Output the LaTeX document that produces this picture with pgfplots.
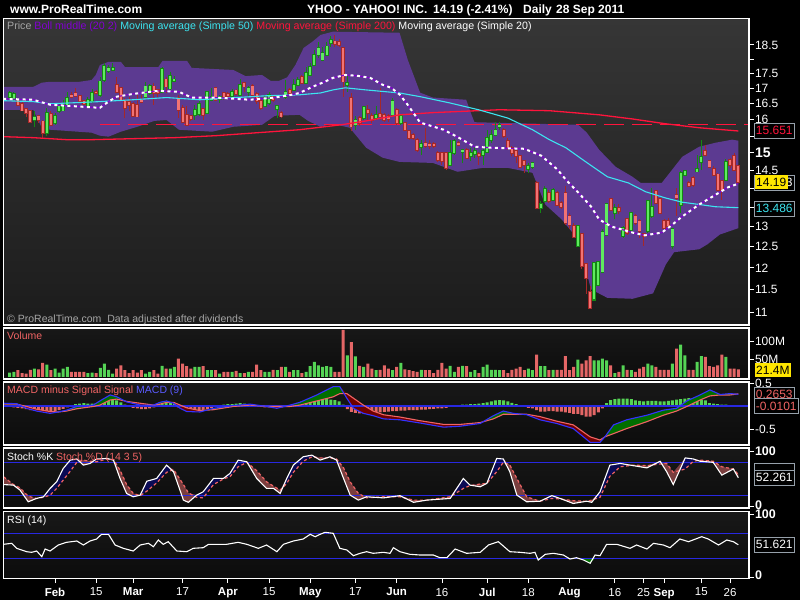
\documentclass[border=0pt]{standalone}
\usepackage{fontspec}
\setmainfont{Liberation Sans}
\usepackage{pgfplots}
\pgfplotsset{compat=1.18}
\usepackage{pgfplotstable}
\definecolor{pbgtop}{RGB}{54,54,54}
\definecolor{pbgbot}{RGB}{28,28,28}
\definecolor{ibgtop}{RGB}{24,24,24}
\definecolor{ibgbot}{RGB}{12,12,12}
\definecolor{boll}{RGB}{92,58,145}
\definecolor{bollpurple}{RGB}{130,0,210}
\definecolor{cgreen}{RGB}{95,235,95}
\definecolor{cgreenD}{RGB}{20,135,20}
\definecolor{cred}{RGB}{242,115,115}
\definecolor{credD}{RGB}{165,40,40}
\definecolor{ma50}{RGB}{60,228,240}
\definecolor{ma200}{RGB}{255,20,60}
\definecolor{vgreen}{RGB}{85,212,85}
\definecolor{vred}{RGB}{228,102,102}
\definecolor{macdblue}{RGB}{50,50,255}
\definecolor{sig}{RGB}{240,100,100}
\definecolor{fgreen}{RGB}{0,110,0}
\definecolor{fred}{RGB}{110,0,0}
\definecolor{navyfill}{RGB}{10,10,85}
\definecolor{brownfill}{RGB}{122,62,62}
\definecolor{lineblue}{RGB}{40,40,225}
\definecolor{labgray}{RGB}{165,165,165}
\definecolor{boxgray}{RGB}{150,160,170}
\definecolor{yelbox}{RGB}{255,230,0}

\pgfplotstableread{
i o h l c v hist
-11 16.73 16.91 16.63 16.85 12 -0.02
-10 16.65 16.87 16.58 16.81 14 -0.03
-9 16.63 16.66 16.42 16.47 19 -0.04
-8 16.50 16.58 16.26 16.29 11 -0.05
-7 16.33 16.36 16.08 16.22 9 -0.07
-6 16.26 16.30 15.91 15.94 20 -0.09
-5 15.99 16.26 15.77 16.08 23 -0.10
-4 16.12 16.15 15.89 15.99 21 -0.11
-3 15.94 15.99 15.41 15.59 39 -0.13
-2 15.59 16.36 15.49 16.20 34 -0.14
-1 16.18 16.26 15.79 15.84 19 -0.13
0 15.89 16.20 15.84 16.12 23 -0.11
1 16.26 16.52 16.20 16.42 12 -0.09
2 16.29 16.63 16.26 16.44 23 -0.06
3 16.47 16.89 16.42 16.68 28 -0.03
4 16.79 16.89 16.68 16.72 14 0.02
5 16.84 17.00 16.73 16.76 14 0.04
6 16.76 16.79 16.52 16.58 14 0.05
7 16.58 16.62 16.46 16.50 14 0.06
8 16.42 16.73 16.36 16.63 11 0.05
9 16.58 16.97 16.52 16.84 12 0.05
10 16.89 16.95 16.80 16.84 11 0.06
11 16.79 17.37 16.73 17.23 25 0.08
12 17.28 17.85 17.23 17.76 37 0.10
13 17.59 17.79 17.52 17.70 20 0.12
14 17.62 17.85 17.59 17.70 9 0.13
15 17.12 17.37 16.84 16.89 23 0.12
16 17.00 17.06 16.58 16.63 32 0.08
17 16.60 16.68 16.04 16.36 19 0.03
18 16.55 16.73 16.26 16.47 11 -0.02
19 16.49 16.55 16.08 16.12 19 -0.04
20 16.47 16.79 16.08 16.10 12 -0.05
21 16.63 16.79 16.52 16.57 19 -0.07
22 16.73 17.23 16.68 17.06 9 -0.07
23 16.84 17.15 16.79 17.09 14 -0.05
24 17.06 17.17 16.47 16.84 19 -0.03
25 16.95 16.98 16.73 16.84 9 0.01
26 16.89 17.73 16.86 17.64 31 0.04
27 17.30 17.39 16.84 17.06 23 0.06
28 17.00 17.56 16.95 17.42 23 0.06
29 17.26 17.40 17.20 17.30 28 0.04
30 16.68 16.79 16.04 16.31 51 -0.03
31 16.36 16.47 15.89 15.94 37 -0.07
32 16.15 16.42 15.81 15.84 30 -0.10
33 16.10 16.15 15.96 16.01 23 -0.11
34 16.15 16.47 15.99 16.31 28 -0.12
35 16.18 16.58 16.10 16.49 28 -0.11
36 16.33 16.36 15.99 16.15 30 -0.09
37 16.20 16.93 16.18 16.87 19 -0.07
38 16.63 17.00 16.58 16.72 19 -0.04
39 17.00 17.03 16.58 16.63 19 -0.02
40 16.65 16.79 16.52 16.72 9 0.01
41 16.84 16.89 16.63 16.72 14 0.03
42 16.82 16.87 16.70 16.76 14 0.04
43 16.76 16.97 16.73 16.87 14 0.04
44 16.93 16.97 16.79 16.82 17 0.05
45 16.79 17.30 16.76 17.12 11 0.06
46 17.19 17.23 16.89 17.06 11 0.05
47 16.89 17.09 16.76 17.00 14 0.04
48 17.09 17.15 16.73 16.79 14 0.03
49 16.82 16.89 16.50 16.58 34 0.01
50 16.58 16.68 16.31 16.36 19 -0.01
51 16.42 16.79 16.40 16.68 14 -0.03
52 16.52 16.89 16.47 16.79 14 -0.03
53 16.73 16.79 16.55 16.63 20 -0.04
54 16.33 16.47 16.04 16.44 19 -0.04
55 16.20 16.26 16.04 16.10 28 -0.03
56 16.72 17.28 16.67 16.87 28 -0.01
57 16.95 17.00 16.79 16.86 14 0.02
58 16.95 17.33 16.93 17.12 19 0.04
59 17.12 17.37 17.09 17.28 19 0.07
60 17.39 17.45 17.17 17.19 11 0.10
61 17.17 17.73 17.15 17.52 14 0.12
62 17.45 17.85 17.41 17.73 30 0.13
63 17.79 18.32 17.76 18.14 42 0.14
64 18.14 18.62 18.02 18.38 32 0.15
65 17.97 18.44 17.95 18.22 28 0.15
66 18.14 18.62 18.11 18.44 30 0.15
67 18.56 18.82 18.44 18.68 28 0.14
68 18.62 18.86 18.44 18.54 14 0.13
69 18.60 18.70 18.44 18.50 14 0.10
70 18.38 18.44 16.73 17.23 131 0.03
71 17.12 17.42 16.89 17.19 60 -0.07
72 16.68 16.84 15.64 15.79 97 -0.13
73 15.84 16.10 15.69 15.99 57 -0.15
74 16.04 16.10 15.79 15.89 31 -0.16
75 16.04 16.44 15.99 16.40 28 -0.16
76 16.31 16.47 15.99 16.20 37 -0.15
77 16.10 16.20 15.89 15.99 23 -0.15
78 16.04 16.42 15.99 16.15 19 -0.14
79 16.18 17.00 15.99 16.10 20 -0.14
80 16.15 16.20 15.94 15.99 32 -0.13
81 16.12 16.18 15.94 16.01 23 -0.12
82 16.15 16.68 16.10 16.58 19 -0.11
83 16.31 16.36 15.84 15.89 28 -0.11
84 15.89 16.15 15.84 16.10 39 -0.10
85 15.89 15.94 15.64 15.69 21 -0.10
86 15.64 15.69 15.39 15.44 19 -0.09
87 15.54 15.59 15.39 15.44 16 -0.09
88 15.39 15.44 15.04 15.09 14 -0.09
89 15.17 15.39 14.95 15.27 20 -0.08
90 15.29 15.74 15.14 15.21 19 -0.08
91 15.27 15.39 15.12 15.21 19 -0.07
92 15.27 15.32 15.14 15.21 11 -0.06
93 15.00 15.05 14.75 14.80 20 -0.05
94 15.00 15.04 14.66 14.76 39 -0.05
95 15.00 15.04 14.52 14.57 23 -0.04
96 14.66 15.39 14.61 15.00 31 -0.02
97 15.00 15.41 14.95 15.34 14 0.01
98 15.29 15.34 15.19 15.24 28 0.02
99 15.04 15.12 14.70 15.09 31 0.03
100 15.09 15.14 14.83 14.85 30 0.03
101 14.90 15.14 14.76 15.00 14 0.04
102 14.97 15.19 14.85 15.04 19 0.04
103 14.97 15.04 14.66 14.90 11 0.05
104 14.95 15.14 14.66 15.04 28 0.06
105 15.04 15.69 15.00 15.44 34 0.08
106 15.39 15.69 15.29 15.54 20 0.10
107 15.54 15.94 15.49 15.69 20 0.12
108 15.77 15.94 15.69 15.84 19 0.13
109 15.69 15.74 15.44 15.49 19 0.12
110 15.34 15.44 15.09 15.14 11 0.10
111 15.14 15.19 14.90 15.00 20 0.07
112 15.04 15.09 14.70 14.90 23 0.04
113 14.90 14.95 14.57 14.61 28 0.01
114 14.76 14.80 14.42 14.66 19 -0.02
115 14.54 14.70 14.42 14.61 23 -0.04
116 14.61 14.75 14.54 14.70 19 -0.05
117 14.15 14.19 13.44 13.48 62 -0.09
118 13.48 13.65 13.35 13.59 30 -0.12
119 13.66 14.06 13.62 13.97 30 -0.12
120 13.88 13.95 13.62 13.66 19 -0.11
121 13.70 14.01 13.66 13.95 20 -0.11
122 13.88 13.92 13.53 13.57 20 -0.12
123 13.61 13.65 13.46 13.51 20 -0.12
124 13.88 14.06 13.05 13.10 58 -0.14
125 13.27 13.35 12.93 13.05 19 -0.15
126 13.01 13.10 12.72 12.75 28 -0.17
127 12.52 13.05 12.52 13.01 48 -0.17
128 12.80 12.85 11.97 12.04 37 -0.20
129 12.08 12.12 11.40 11.78 46 -0.23
130 11.44 11.59 11.08 11.10 58 -0.23
131 11.29 12.12 11.25 12.10 46 -0.20
132 11.61 12.15 11.59 12.13 46 -0.14
133 11.90 12.93 11.90 12.86 51 -0.05
134 12.80 13.61 12.76 13.57 46 0.06
135 13.70 13.74 13.40 13.44 32 0.13
136 13.35 13.57 13.18 13.48 11 0.15
137 13.48 13.57 13.31 13.40 14 0.16
138 12.78 13.01 12.72 12.96 32 0.16
139 13.18 13.22 12.80 12.84 20 0.16
140 12.93 13.37 12.89 13.35 19 0.15
141 13.27 13.31 13.05 13.10 14 0.12
142 13.14 13.18 12.72 12.89 23 0.11
143 12.80 12.85 12.52 12.76 28 0.10
144 12.89 13.70 12.85 13.66 37 0.11
145 13.27 14.01 13.22 13.51 32 0.11
146 13.92 13.97 13.57 13.61 28 0.11
147 13.70 13.74 13.31 13.35 20 0.10
148 13.14 13.18 12.93 12.96 20 0.10
149 13.14 13.22 12.96 13.01 20 0.11
150 12.52 12.96 12.44 12.93 37 0.12
151 13.83 14.01 13.27 13.74 79 0.14
152 13.57 14.47 13.35 14.42 90 0.15
153 14.38 14.52 14.33 14.47 60 0.16
154 14.15 14.19 14.03 14.08 20 0.17
155 14.28 14.33 14.03 14.10 20 0.17
156 14.47 14.95 14.47 14.54 42 0.16
157 14.73 15.39 14.52 14.87 58 0.14
158 15.04 15.24 14.90 14.95 56 0.12
159 14.76 14.80 14.57 14.61 30 0.06
160 14.54 14.61 14.33 14.38 28 0.05
161 14.38 14.42 13.92 13.97 32 0.04
162 14.19 14.24 13.70 13.97 62 0.03
163 14.24 14.82 14.19 14.73 56 0.03
164 14.80 14.85 14.57 14.66 23 0.02
165 14.90 15.00 14.47 14.52 23 0.01
166 14.62 14.66 14.15 14.19 21.4 -0.0101
}\ohlc

% Bollinger band outline: upper band left to right, then lower band right to left
\pgfplotstableread{
x y
-12.6 17.05
-5.3 17.05
-3.2 17.19
-1.2 17.22
5.9 17.22
8.9 17.28
9.9 17.45
10.9 17.79
13.0 17.90
16.0 17.90
17.0 17.72
25.1 17.72
26.1 17.93
32.1 17.93
33.2 17.69
43.3 17.62
46.3 17.41
50.3 17.45
52.4 17.25
54.4 17.25
56.4 17.37
58.4 17.79
60.4 18.39
62.5 18.61
64.5 18.86
67.5 18.98
83.7 18.94
85.7 17.97
88.7 16.86
91.8 16.70
99.9 16.63
100.9 16.25
101.9 15.92
127.1 15.84
129.2 15.60
132.2 15.09
136.2 14.60
140.3 14.32
142.3 14.15
147.4 14.15
149.4 14.44
152.4 14.89
156.5 15.18
160.5 15.30
164.5 15.39
166.0 15.36
166.0 12.96
161.5 12.80
158.5 12.56
156.5 12.44
150.4 12.37
148.4 12.08
145.3 11.42
140.3 11.30
134.2 11.32
130.2 11.51
127.1 12.68
123.1 13.18
119.1 13.57
116.0 14.43
110.0 14.57
103.9 14.57
97.8 14.46
91.8 14.71
83.7 14.74
79.6 14.86
75.6 15.15
71.6 15.75
67.5 15.87
64.5 15.78
61.5 15.96
59.4 16.15
53.4 16.12
50.3 15.84
43.3 15.78
38.2 15.63
30.1 15.69
27.1 15.99
24.1 15.96
20.0 15.78
16.0 15.63
13.0 15.48
10.9 15.51
8.9 15.60
-1.2 15.69
-3.2 15.75
-5.3 16.31
-12.6 16.31
}\band

\pgfplotstableread{
x m
-12.6 16.66
-5.3 16.63
-1.2 16.47
10.9 16.37
13.0 16.57
15.0 16.73
19.0 16.82
25.1 16.92
30.1 16.89
33.2 16.70
39.2 16.70
47.3 16.63
53.4 16.70
57.4 16.79
59.4 16.85
62.5 17.05
65.5 17.22
67.5 17.35
70.5 17.45
73.6 17.42
76.6 17.35
79.6 17.12
81.7 17.02
83.8 16.79
85.5 16.50
87.4 16.15
88.7 15.91
94.4 15.69
97.8 15.47
101.9 15.18
105.9 15.15
114.0 15.12
118.1 14.92
122.1 14.52
124.1 14.24
127.1 13.89
130.2 13.52
132.2 13.18
135.2 13.00
140.3 12.85
143.3 12.78
147.4 12.85
149.4 13.00
152.4 13.26
156.5 13.57
160.5 13.83
163.5 14.03
166.0 14.13
}\maTwenty

\pgfplotstableread{
x m
-12.6 16.60
-5.3 16.57
-1.2 16.50
10.9 16.57
19.0 16.63
27.1 16.70
35.2 16.63
51.3 16.76
59.4 16.79
64.5 16.85
67.5 16.95
70.5 17.02
75.6 16.95
83.7 16.85
88.7 16.73
95.8 16.53
102.9 16.31
110.0 16.05
116.0 15.69
120.1 15.39
124.1 15.15
129.2 14.72
134.2 14.32
139.3 14.15
143.5 13.91
148.4 13.74
152.4 13.63
156.5 13.57
160.5 13.51
166.0 13.486
}\maFifty

\pgfplotstableread{
x m
-12.6 15.48
-5.3 15.45
2.8 15.39
8.9 15.39
29.1 15.45
39.2 15.51
49.3 15.60
59.4 15.69
69.5 15.84
75.6 15.96
83.7 16.15
91.8 16.22
107.9 16.31
120.1 16.28
132.2 16.15
140.3 16.02
148.4 15.87
156.5 15.75
166.0 15.651
}\maTwoHundred

\pgfplotstableread{
x m s
-12.5 0.06 0.04
-9.3 0.05 0.04
-6.9 -0.05 -0.01
-4.45 -0.11 -0.07
-1.2 -0.16 -0.12
0.8 -0.13 -0.13
2.8 -0.09 -0.11
5.3 -0.01 -0.06
9.3 0.02 -0.01
10.9 0.11 0.02
13.4 0.24 0.13
15.0 0.20 0.15
17.4 0.09 0.10
20.7 0.02 0.06
23.9 0.02 0.02
25.5 0.08 0.04
27.1 0.11 0.08
28.8 0.06 0.08
30.4 -0.05 0.02
32.0 -0.12 -0.04
35.2 -0.13 -0.10
38.5 -0.05 -0.08
43.3 0.01 -0.01
47.4 0.04 0.02
51.4 -0.01 -0.01
53.9 -0.05 -0.01
57.1 0.02 -0.01
59.5 0.08 0.02
63.6 0.24 0.11
67.6 0.42 0.20
69.2 0.42 0.27
70.9 0.17 0.27
72.5 -0.05 0.17
74.9 -0.16 0.02
77.3 -0.21 -0.11
79.8 -0.28 -0.19
83.8 -0.30 -0.24
88.7 -0.37 -0.32
94.4 -0.46 -0.40
98.4 -0.44 -0.40
103.3 -0.38 -0.36
106.5 -0.21 -0.28
108.9 -0.11 -0.18
111.4 -0.16 -0.18
114.6 -0.19 -0.18
117.8 -0.30 -0.23
121.9 -0.38 -0.33
125.9 -0.49 -0.41
130.0 -0.79 -0.67
132.4 -0.79 -0.74
133.6 -0.67 -0.67
135.7 -0.41 -0.60
138.9 -0.30 -0.49
143.8 -0.20 -0.34
147.8 -0.09 -0.20
151.0 -0.05 -0.11
153.5 0.11 -0.01
156.7 0.24 0.13
159.1 0.35 0.22
161.6 0.25 0.24
164.0 0.27 0.24
166.0 0.255 0.265
}\macd

\pgfplotstableread{
x k d
-12.5 40 54
-10.1 39 40
-8.5 30 34
-6.5 9 19
-4.5 15 15
-2.8 18 17
-1.2 33 21
0.4 45 33
2.0 69 48
3.7 84 64
5.3 86 80
6.9 75 84
8.5 78 82
10.1 86 81
12.6 87 86
14.2 84 85
15.8 51 66
17.4 24 40
19.0 18 24
20.7 21 20
22.3 46 28
24.7 51 43
27.1 75 62
28.8 63 67
31.2 12 40
32.4 8 25
34.4 21 17
36.0 27 16
38.5 51 40
40.9 51 50
42.5 60 54
44.5 84 72
46.6 81 80
49.0 51 65
51.4 33 45
53.1 33 37
54.7 24 30
56.3 51 42
57.9 75 62
60.3 90 82
62.4 93 90
64.4 84 88
66.8 90 88
68.4 84 86
70.1 51 70
71.7 21 45
73.7 12 24
75.7 18 16
79.8 16 18
83.8 20 18
87.1 8 12
90.3 12 12
96.0 15 18
99.2 51 33
100.8 39 38
103.3 36 41
104.9 42 42
107.3 87 63
108.9 86 80
110.5 63 75
112.2 21 51
114.6 9 18
117.8 10 10
120.7 20 15
122.7 15 14
125.9 6 11
129.2 10 10
130.4 8 12
132.4 27 17
134.8 75 55
137.3 78 72
140.5 74 75
143.8 70 74
147.0 82 77
148.6 63 78
150.2 40 62
153.1 88 68
155.1 86 82
156.7 82 84
159.9 80 82
162.0 57 72
164.8 68 68
166.0 52.261 58
}\stoch

\pgfplotstableread{
x r
-12.55 52.3
-10.5 53.9
-9.3 45.9
-6.9 40.5
-5.7 39.5
-4.45 41.6
-3.2 32.5
-2.4 44.8
-1.2 41.6
0.8 51.2
2.8 55.5
5.3 57.6
6.9 51.2
8.5 57.6
10.1 60.8
11.3 68.3
13.0 68.3
14.6 51.2
16.6 45.9
19.0 41.6
20.7 51.2
22.7 53.9
23.9 48.5
25.1 59.2
26.3 52.3
27.5 56.5
29.6 41.6
32.0 40.5
33.6 45.9
36.0 46.9
37.3 52.3
39.3 52.3
41.7 52.3
44.5 55.5
46.6 52.3
49.4 45.9
51.4 51.2
53.9 40.5
55.5 52.3
57.9 57.6
60.3 60.8
62.0 68.3
63.2 64.5
64.4 68.3
65.6 71.5
67.6 69.9
69.2 45.9
70.9 43.2
72.5 34.1
74.1 37.9
75.7 40.5
77.3 37.9
79.8 39.5
81.4 37.9
82.2 46.9
83.8 40.5
86.2 36.3
88.7 35.2
91.9 35.2
93.5 30.9
95.2 30.9
97.2 44.8
100.0 37.9
103.3 39.5
105.3 51.2
107.7 56.5
110.5 40.5
113.0 39.5
115.4 37.9
116.6 39.5
117.4 27.2
119.1 36.3
121.1 37.9
123.5 35.2
125.1 28.8
126.7 30.9
128.4 27.2
130.0 21.9
131.2 35.2
132.4 34.1
134.0 52.3
136.5 52.3
139.7 45.9
141.3 51.2
143.8 44.8
145.4 53.9
147.8 51.2
149.4 46.9
151.8 60.8
153.9 56.5
157.1 64.5
158.7 60.8
161.2 51.2
163.2 59.2
164.8 56.5
166.0 51.621
}\rsi

% ---- split the OHLC table into coordinate lists (up / down candles) ----
\pgfplotstablegetrowsof{\ohlc}
\pgfmathtruncatemacro\Nrows{\pgfplotsretval-1}
\def\upW{}\def\dnW{}\def\upBo{}\def\dnBo{}\def\upBi{}\def\dnBi{}\def\upV{}\def\dnV{}\def\posH{}\def\negH{}
\pgfplotsforeachungrouped \k in {0,...,\Nrows}{%
  \pgfplotstablegetelem{\k}{i}\of\ohlc \let\ci\pgfplotsretval
  \pgfplotstablegetelem{\k}{o}\of\ohlc \let\co\pgfplotsretval
  \pgfplotstablegetelem{\k}{h}\of\ohlc \let\ch\pgfplotsretval
  \pgfplotstablegetelem{\k}{l}\of\ohlc \let\cl\pgfplotsretval
  \pgfplotstablegetelem{\k}{c}\of\ohlc \let\cc\pgfplotsretval
  \pgfplotstablegetelem{\k}{v}\of\ohlc \let\cv\pgfplotsretval
  \pgfplotstablegetelem{\k}{hist}\of\ohlc \let\chh\pgfplotsretval
  \pgfmathtruncatemacro\isup{\cc<\co ? 0 : 1}%
  \pgfmathtruncatemacro\ispos{\chh<0 ? 0 : 1}%
  \ifnum\isup=1
    \pgfmathsetmacro\ob{\co-0.03}\pgfmathsetmacro\ot{\cc+0.03}%
    \pgfmathsetmacro\ib{\co-0.004}\pgfmathsetmacro\itp{\cc+0.004}%
    \edef\upW{\upW (\ci,\cl) (\ci,\ch) (\ci,nan)}%
    \edef\upBo{\upBo (\ci,\ob) (\ci,\ot) (\ci,nan)}%
    \edef\upBi{\upBi (\ci,\ib) (\ci,\itp) (\ci,nan)}%
    \edef\upV{\upV (\ci,\cv)}%
  \else
    \pgfmathsetmacro\ob{\cc-0.03}\pgfmathsetmacro\ot{\co+0.03}%
    \pgfmathsetmacro\ib{\cc-0.004}\pgfmathsetmacro\itp{\co+0.004}%
    \edef\dnW{\dnW (\ci,\cl) (\ci,\ch) (\ci,nan)}%
    \edef\dnBo{\dnBo (\ci,\ob) (\ci,\ot) (\ci,nan)}%
    \edef\dnBi{\dnBi (\ci,\ib) (\ci,\itp) (\ci,nan)}%
    \edef\dnV{\dnV (\ci,\cv)}%
  \fi
  \ifnum\ispos=1
    \edef\posH{\posH (\ci,\chh)}%
  \else
    \edef\negH{\negH (\ci,\chh)}%
  \fi
}

% ---- polygons for the coloured areas between two curves ----
\pgfplotstablegetrowsof{\macd}
\pgfmathtruncatemacro\Nm{\pgfplotsretval-1}
\def\mFwd{}\def\mRevS{}\def\mRevM{}
\pgfplotsforeachungrouped \k in {0,...,\Nm}{%
  \pgfplotstablegetelem{\k}{x}\of\macd \let\cx\pgfplotsretval
  \pgfplotstablegetelem{\k}{m}\of\macd \let\cm\pgfplotsretval
  \pgfplotstablegetelem{\k}{s}\of\macd \let\cs\pgfplotsretval
  \pgfmathsetmacro\cmax{max(\cm,\cs)}%
  \edef\mFwd{\mFwd (\cx,\cmax)}%
  \edef\mRevS{(\cx,\cs) \mRevS}%
  \edef\mRevM{(\cx,\cm) \mRevM}%
}
\pgfplotstablegetrowsof{\stoch}
\pgfmathtruncatemacro\Ns{\pgfplotsretval-1}
\def\sFwd{}\def\sRevD{}\def\sRevK{}
\pgfplotsforeachungrouped \k in {0,...,\Ns}{%
  \pgfplotstablegetelem{\k}{x}\of\stoch \let\cx\pgfplotsretval
  \pgfplotstablegetelem{\k}{k}\of\stoch \let\ck\pgfplotsretval
  \pgfplotstablegetelem{\k}{d}\of\stoch \let\cd\pgfplotsretval
  \pgfmathsetmacro\cmax{max(\ck,\cd)}%
  \edef\sFwd{\sFwd (\cx,\cmax)}%
  \edef\sRevD{(\cx,\cd) \sRevD}%
  \edef\sRevK{(\cx,\ck) \sRevK}%
}
\pgfplotstablegetrowsof{\rsi}
\pgfmathtruncatemacro\Nr{\pgfplotsretval-1}
\def\rFwd{}\def\rRev{}
\pgfplotsforeachungrouped \k in {0,...,\Nr}{%
  \pgfplotstablegetelem{\k}{x}\of\rsi \let\cx\pgfplotsretval
  \pgfplotstablegetelem{\k}{r}\of\rsi \let\cr\pgfplotsretval
  \pgfmathsetmacro\cmin{min(\cr,30)}%
  \edef\rFwd{\rFwd (\cx,\cmin)}%
  \edef\rRev{(\cx,30) \rRev}%
}

\pgfplotsset{
  panel/.style={
    scale only axis, width=745.7pt, anchor=south west,
    xmin=-12.56, xmax=168.6,
    axis on top,
    axis line style={white, line width=1.3pt},
    xtick=\empty,
    ytick pos=right, yticklabel pos=right,
    tick align=outside, major tick length=4.5pt,
    every tick/.style={white, line width=0.8pt},
    yticklabel style={font=\fontsize{12}{12}\selectfont, text=white, xshift=-2pt},
    yminorticks=false,
    unbounded coords=jump,
    axis background/.style={top color=ibgtop, bottom color=ibgbot},
  },
}
\newcommand{\sz}[1]{\fontsize{#1}{#1}\selectfont}

\begin{document}
\begin{tikzpicture}
\useasboundingbox (0pt,0pt) rectangle (800pt,600pt);
\fill[black] (0pt,0pt) rectangle (800pt,600pt);

% ---------------- PRICE ----------------
\begin{axis}[panel, at={(3.3pt,275pt)}, height=306.7pt,
  ymode=log, ymin=10.74, ymax=19.48,
  ytick={11,11.5,12,12.5,13,13.5,14,14.5,15,15.5,16,16.5,17,17.5,18,18.5},
  yticklabels={11,11.5,12,12.5,13,{},{},14.5,{\sz{14}\bfseries 15},{},16,16.5,17,17.5,{},18.5},
  axis background/.style={top color=pbgtop, bottom color=pbgbot}]
\addplot[fill=boll, draw=none, forget plot] table[x=x,y=y]{\band};
\addplot[ma200, line width=1.3pt, dash pattern=on 19.5pt off 8.5pt, forget plot] coordinates {(11,15.84) (168.6,15.84)};
\edef\tmp{\noexpand\addplot[cgreenD, line width=1pt, forget plot] coordinates {\upW};}\tmp
\edef\tmp{\noexpand\addplot[credD, line width=1pt, forget plot] coordinates {\dnW};}\tmp
\edef\tmp{\noexpand\addplot[cgreenD, line width=3.8pt, forget plot] coordinates {\upBo};}\tmp
\edef\tmp{\noexpand\addplot[cgreen, line width=2.2pt, forget plot] coordinates {\upBi};}\tmp
\edef\tmp{\noexpand\addplot[credD, line width=3.8pt, forget plot] coordinates {\dnBo};}\tmp
\edef\tmp{\noexpand\addplot[cred, line width=2.2pt, forget plot] coordinates {\dnBi};}\tmp
\addplot[ma200, line width=1.3pt, forget plot] table[x=x,y=m]{\maTwoHundred};
\addplot[ma50, line width=1.1pt, forget plot] table[x=x,y=m]{\maFifty};
\addplot[bollpurple, line width=1.1pt, forget plot] table[x=x,y=m]{\maTwenty};
\addplot[white, line width=2pt, dash pattern=on 3pt off 3.5pt, forget plot] table[x=x,y=m]{\maTwenty};
\end{axis}

% ---------------- VOLUME ----------------
\begin{axis}[panel, at={(3.3pt,221pt)}, height=51pt,
  ymin=-5.6, ymax=136.1, ytick={50,100}, yticklabels={50M,100M}]
\edef\tmp{\noexpand\addplot[ybar, bar width=3pt, bar shift=0pt, fill=vgreen, draw=none, forget plot] coordinates {\upV};}\tmp
\edef\tmp{\noexpand\addplot[ybar, bar width=3pt, bar shift=0pt, fill=vred, draw=none, forget plot] coordinates {\dnV};}\tmp
\end{axis}

% ---------------- MACD ----------------
\begin{axis}[panel, at={(3.3pt,155pt)}, height=63pt,
  ymin=-0.848, ymax=0.522, ytick={-0.5,0.5}, yticklabels={-0.5,0.5}]
\edef\tmp{\noexpand\addplot[ybar, bar width=3pt, bar shift=0pt, fill=vgreen, draw=none, forget plot] coordinates {\posH};}\tmp
\edef\tmp{\noexpand\addplot[ybar, bar width=3pt, bar shift=0pt, fill=vred, draw=none, forget plot] coordinates {\negH};}\tmp
\edef\tmp{\noexpand\addplot[fill=fgreen, draw=none, forget plot] coordinates {\mFwd \mRevS};}\tmp
\edef\tmp{\noexpand\addplot[fill=fred, draw=none, forget plot] coordinates {\mFwd \mRevM};}\tmp
\addplot[lineblue, line width=1.2pt, forget plot] coordinates {(-12.56,0) (168.6,0)};
\addplot[sig, line width=1.1pt, forget plot] table[x=x,y=s]{\macd};
\addplot[macdblue, line width=1.1pt, forget plot] table[x=x,y=m]{\macd};
\end{axis}

% ---------------- STOCH ----------------
\begin{axis}[panel, at={(3.3pt,92pt)}, height=60pt,
  ymin=-2.2, ymax=105.8, ytick={0,100},
  yticklabels={\raisebox{4pt}{\textbf{0}},\raisebox{-2.5pt}{\textbf{100}}},
  yticklabel style={font=\sz{12.5}}]
\edef\tmp{\noexpand\addplot[fill=navyfill, draw=none, forget plot] coordinates {\sFwd \sRevD};}\tmp
\edef\tmp{\noexpand\addplot[fill=brownfill, draw=none, forget plot] coordinates {\sFwd \sRevK};}\tmp
\addplot[lineblue, line width=1.1pt, forget plot] coordinates {(-12.56,80) (168.6,80)};
\addplot[lineblue, line width=1.1pt, forget plot] coordinates {(-12.56,20) (168.6,20)};
\addplot[sig, line width=1.2pt, dash pattern=on 3pt off 2.5pt, forget plot] table[x=x,y=d]{\stoch};
\addplot[white, line width=1.1pt, forget plot] table[x=x,y=k]{\stoch};
\end{axis}

% ---------------- RSI ----------------
\begin{axis}[panel, at={(3.3pt,21.5pt)}, height=66.8pt,
  ymin=-2.4, ymax=104.5, ytick={0,100},
  yticklabels={\raisebox{4pt}{\textbf{0}},\raisebox{-2.5pt}{\textbf{100}}},
  yticklabel style={font=\sz{12.5}},
  xtick={0,10,19,31,42,52,62,73,83,94,105,115,125,136,143,148,157,164},
  xticklabels={\textbf{Feb},15,\textbf{Mar},17,\textbf{Apr},15,\textbf{May},17,\textbf{Jun},16,\textbf{Jul},18,\textbf{Aug},16,25,\textbf{Sep},15,26},
  xtick pos=bottom,
  xticklabel style={font=\sz{11.5}, text=white, yshift=-1.5pt}]
\edef\tmp{\noexpand\addplot[fill=fgreen, draw=none, forget plot] coordinates {\rFwd \rRev};}\tmp
\addplot[lineblue, line width=1.1pt, forget plot] coordinates {(-12.56,70) (168.6,70)};
\addplot[lineblue, line width=1.1pt, forget plot] coordinates {(-12.56,30) (168.6,30)};
\addplot[white, line width=1.1pt, forget plot] table[x=x,y=r]{\rsi};
\end{axis}

% ---------------- TEXTS ----------------
\node[anchor=base west, inner sep=0, text=white, font=\sz{12}\bfseries] at (10pt,586pt) {www.ProRealTime.com};
\node[anchor=base west, inner sep=0, text=white, font=\sz{12}\bfseries] at (307pt,586pt) {YHOO - YAHOO! INC.};
\node[anchor=base west, inner sep=0, text=white, font=\sz{12}\bfseries] at (433pt,586pt) {14.19 (-2.41\%)};
\node[anchor=base west, inner sep=0, text=white, font=\sz{12}\bfseries] at (523pt,586pt) {Daily};
\node[anchor=base west, inner sep=0, text=white, font=\sz{12}\bfseries] at (556pt,586pt) {28 Sep 2011};

\node[anchor=base west, inner sep=0, font=\sz{10.65}] at (7pt,570pt)
 {\textcolor{labgray}{Price} \textcolor{bollpurple}{Boll middle (20 2)} \textcolor{ma50}{Moving average (Simple 50)} \textcolor{ma200}{Moving average (Simple 200)} \textcolor{white}{Moving average (Simple 20)}};
\node[anchor=base west, inner sep=0, font=\sz{10.5}, text=labgray] at (7pt,277pt) {\textcopyright\ ProRealTime.com\ \ Data adjusted after dividends};
\node[anchor=base west, inner sep=0, font=\sz{10.5}, text=sig] at (7pt,260pt) {Volume};
\node[anchor=base west, inner sep=0, font=\sz{10.5}] at (7pt,206pt) {\textcolor{sig}{MACD minus Signal Signal} \textcolor{macdblue!80!white}{MACD (9)}};
\node[anchor=base west, inner sep=0, font=\sz{10.5}] at (7pt,140pt) {\textcolor{white}{Stoch \%K} \textcolor{sig}{Stoch \%D (14 3 5)}};
\node[anchor=base west, inner sep=0, font=\sz{10.5}, text=white] at (7pt,77pt) {RSI (14)};

% value boxes
\tikzset{vbox/.style={anchor=west, fill=black, draw=boxgray, line width=0.9pt, inner xsep=1.5pt, inner ysep=1.5pt, font=\sz{12}, minimum height=15pt, minimum width=35pt}}
\node[vbox, text=ma200] at (754pt,469.5pt) {15.651};
\node[vbox, text=white] at (754pt,417.5pt) {\phantom{14.13}3};
\node[anchor=west, fill=yelbox, text=black, inner xsep=1.5pt, inner ysep=1.5pt, font=\sz{12}, minimum height=14pt, minimum width=30pt] at (754.5pt,418pt) {14.19};
\node[vbox, text=ma50] at (754pt,391.5pt) {13.486};
\node[anchor=west, fill=yelbox, text=black, inner xsep=1.5pt, inner ysep=1.5pt, font=\sz{12}, minimum height=14pt, minimum width=31pt] at (754.5pt,230pt) {21.4M};
\node[vbox, text=sig] at (754pt,205.5pt) {0.2653};
\node[vbox, text=sig] at (754pt,194pt) {-0.0101};
\node[vbox, text=white] at (754pt,129pt) {\phantom{52.261}};
\node[vbox, text=white] at (754pt,122.5pt) {52.261};
\node[vbox, text=white] at (754pt,55.5pt) {51.621};
\end{tikzpicture}
\end{document}
